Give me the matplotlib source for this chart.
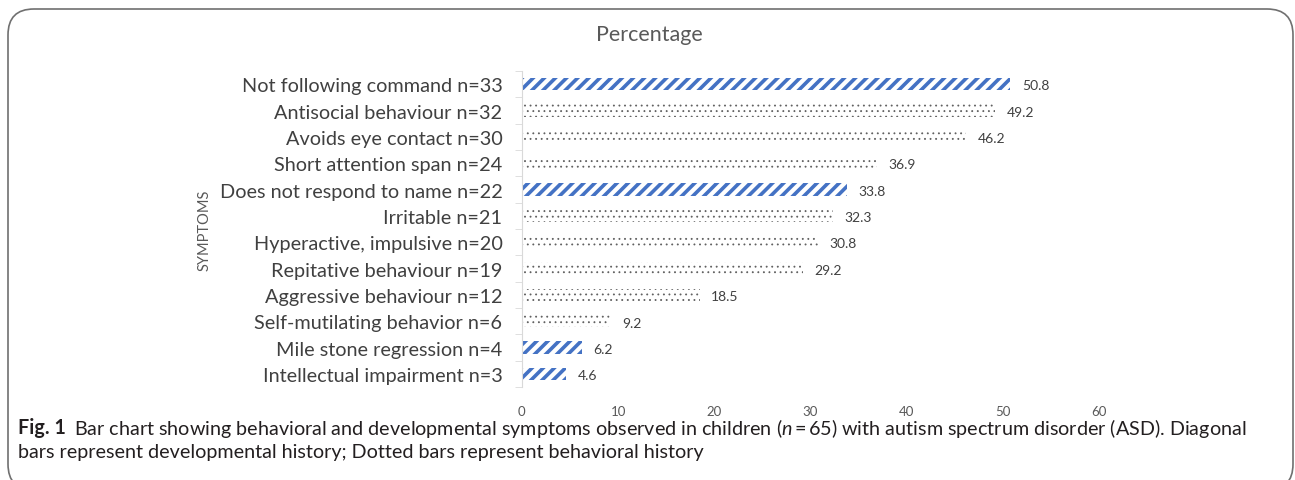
import matplotlib
matplotlib.use("Agg")
import matplotlib.pyplot as plt
from matplotlib.patches import FancyBboxPatch

plt.rcParams['font.family'] = ['Lato', 'DejaVu Sans']
plt.rcParams['mathtext.fontset'] = 'custom'
plt.rcParams['mathtext.rm'] = 'Lato'
plt.rcParams['mathtext.it'] = 'Lato:italic'
plt.rcParams['hatch.linewidth'] = 2.6

# symptoms, listed top to bottom
symptoms = ['Not following command n=33', 'Antisocial behaviour n=32',
            'Avoids eye contact n=30', 'Short attention span n=24',
            'Does not respond to name n=22', 'Irritable n=21',
            'Hyperactive, impulsive n=20', 'Repitative behaviour n=19',
            'Aggressive behaviour n=12', 'Self-mutilating behavior n=6',
            'Mile stone regression n=4', 'Intellectual impairment n=3']
percent = [50.8, 49.2, 46.2, 36.9, 33.8, 32.3, 30.8, 29.2, 18.5, 9.2, 6.2, 4.6]
# True = developmental history (diagonal), False = behavioral (dotted)
developmental = [True, False, False, False, True, False,
                 False, False, False, False, True, True]

fig = plt.figure(figsize=(12.95, 4.81), dpi=100)
ax = fig.add_axes([0.403, 0.1933, 0.4456, 0.657])

n = len(symptoms)
ypos = list(range(n))[::-1]
for y, v, dev in zip(ypos, percent, developmental):
    if dev:
        ax.barh(y, v, height=0.46, color='white', edgecolor='#4472C4',
                hatch='///', linewidth=0)
    else:
        with plt.rc_context({'hatch.linewidth': 0.6}):
            ax.barh(y, v, height=0.46, color='white', edgecolor='#606060',
                    hatch='...', linewidth=0)
    ax.text(v + 1.2, y - 0.05, f'{v:.1f}', va='center', ha='left',
            fontsize=10, color='#404040')

ax.set_xlim(0, 60)
ax.set_ylim(-0.5, n - 0.5)
ax.set_xticks(range(0, 61, 10))
ax.set_yticks(ypos)
ax.set_yticklabels(symptoms)
ax.set_yticks([i - 0.5 for i in range(n + 1)], minor=True)
ax.tick_params(axis='y', which='major', length=0, labelsize=14.3,
               labelcolor='#404040', pad=14)
ax.tick_params(axis='y', which='minor', length=5, color='#d9d9d9')
ax.tick_params(axis='x', length=0, labelsize=9.5, labelcolor='#595959', pad=13)
for s in ['top', 'right', 'bottom']:
    ax.spines[s].set_visible(False)
ax.spines['left'].set_color('#d9d9d9')
ax.set_ylabel('SYMPTOMS', fontsize=10.5, color='#595959', labelpad=6)

fig.text(649 / 1295, 1 - 35 / 481, 'Percentage', ha='center', va='center',
         fontsize=15.5, color='#595959')

# outer rounded frame (bottom runs off the image)
frame = FancyBboxPatch((8 / 1295, -10 / 481), 1285 / 1295, 481 / 481,
                       boxstyle='round,pad=0,rounding_size=0.02',
                       transform=fig.transFigure, facecolor='none',
                       edgecolor='#707070', linewidth=1.2,
                       mutation_aspect=1295 / 481)
fig.patches.append(frame)

# caption
cap_color = '#231f20'
t1 = fig.text(18 / 1295, 1 - 428 / 481, 'Fig. 1', fontweight='bold',
              fontsize=14.2, color=cap_color, va='center')
fig.canvas.draw()
bb = t1.get_window_extent()
fig.text((bb.x1 + 8) / 1295, 1 - 428 / 481,
         'Bar chart showing behavioral and developmental symptoms observed in '
         'children ($n$\u2009=\u200965) with autism spectrum disorder (ASD). Diagonal',
         fontsize=14.2, color=cap_color, va='center')
fig.text(18 / 1295, 1 - 453 / 481,
         'bars represent developmental history; Dotted bars represent behavioral history',
         fontsize=14.2, color=cap_color, va='center')

fig.savefig('out.png', dpi=100)
